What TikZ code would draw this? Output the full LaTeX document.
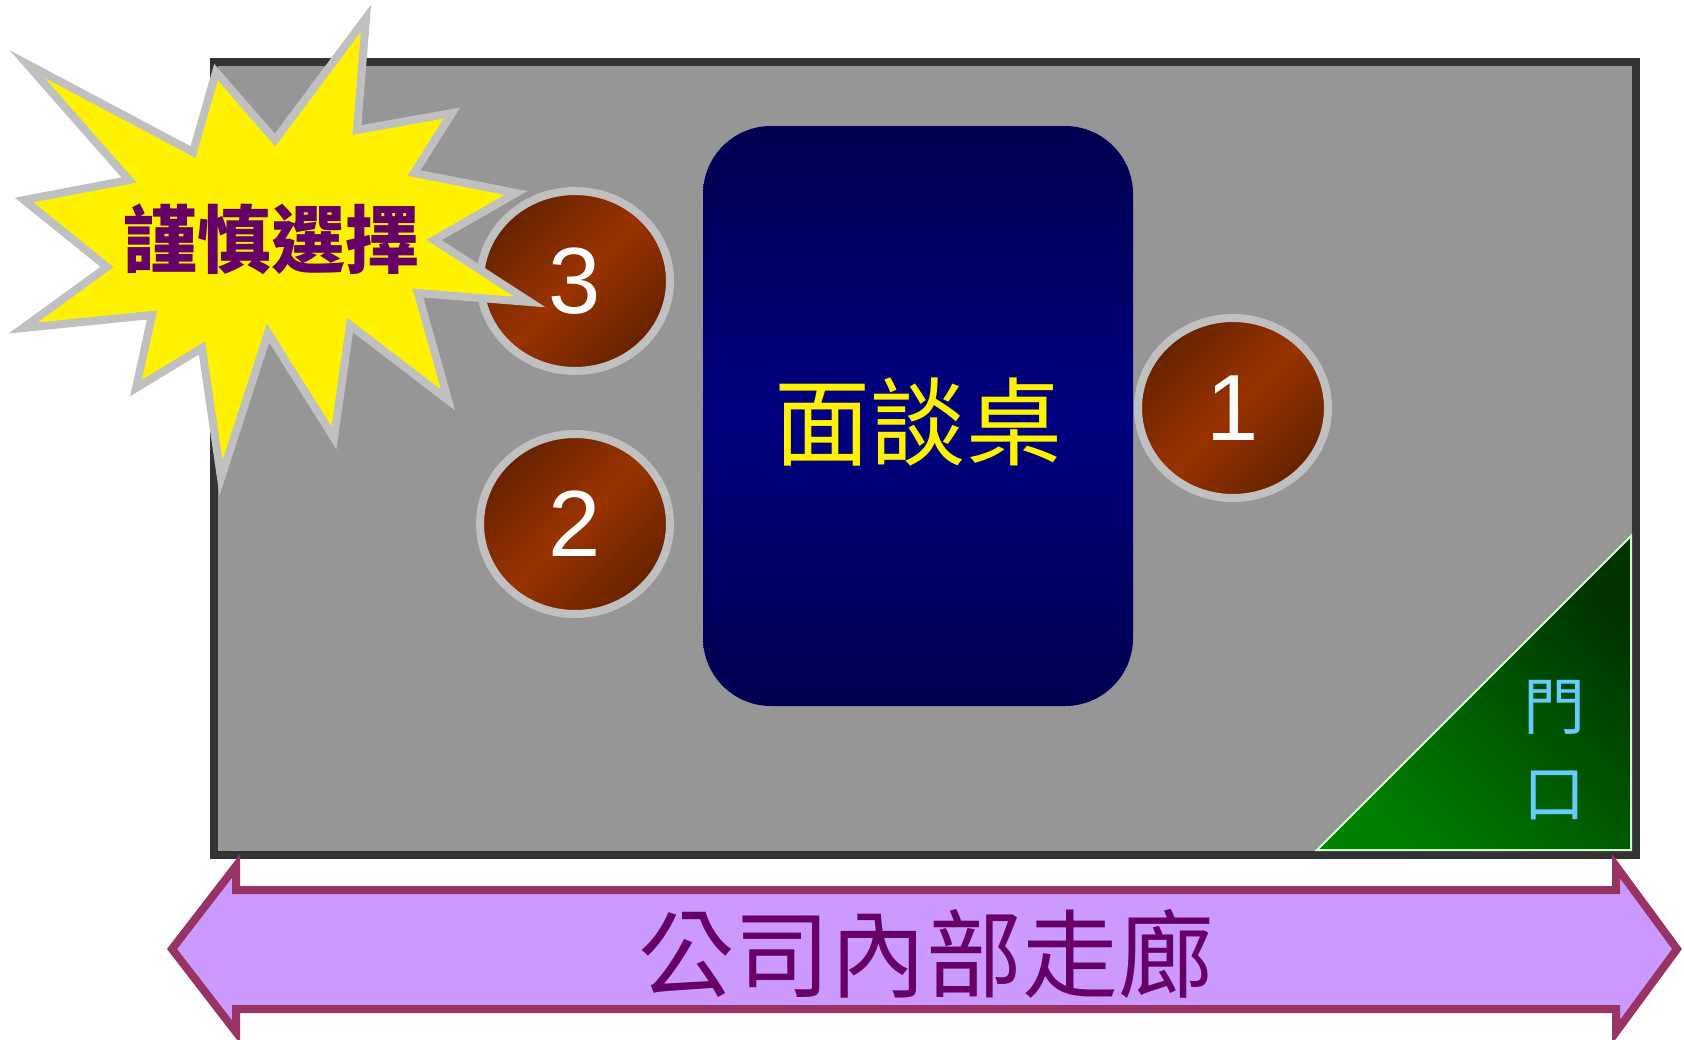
\documentclass[tikz,border=0pt]{standalone}
\usepackage{fontspec}
\setmainfont{Liberation Sans}
\newfontfamily\cjk{Noto Sans CJK TC}
\usetikzlibrary{shapes.geometric}

\definecolor{roomgray}{HTML}{969696}
\definecolor{roomwall}{HTML}{333333}
\definecolor{deskdark}{HTML}{000050}
\definecolor{deskmid}{HTML}{000080}
\definecolor{seatdark}{HTML}{662200}
\definecolor{seatmid}{HTML}{993300}
\definecolor{silver}{HTML}{C0C0C0}
\definecolor{doordark}{HTML}{003300}
\definecolor{doorlight}{HTML}{008000}
\definecolor{doortrim}{HTML}{CCFFCC}
\definecolor{doortext}{HTML}{66CCFF}
\definecolor{hallfill}{HTML}{CC99FF}
\definecolor{halltrim}{HTML}{993366}
\definecolor{plum}{HTML}{660066}

\begin{document}
\begin{tikzpicture}[
    x=0.5pt, y=-0.5pt,
    room/.style={draw=roomwall, line width=4pt, fill=roomgray},
    desk/.style={rectangle, rounded corners=34pt, minimum width=215pt, minimum height=290pt, top color=deskdark, bottom color=deskdark, middle color=deskmid, text=yellow, font=\cjk\fontsize{48}{48}\selectfont},
    seat/.style={ellipse, draw=silver, line width=4pt, minimum width=95pt, minimum height=90pt, inner sep=0pt, top color=seatdark, bottom color=seatdark, middle color=seatmid, shading angle=45, text=white, font=\fontsize{47}{47}\selectfont},
    door/.style={draw=doortrim, line width=1pt, top color=doordark, bottom color=doorlight, shading angle=-45},
    doorlabel/.style={text=doortext, inner sep=0pt, font=\cjk\fontsize{31}{31}\selectfont},
    burst/.style={draw=silver, line width=4pt, fill=yellow, line join=miter},
    hall/.style={draw=halltrim, line width=4pt, fill=hallfill, line join=miter}
]
\useasboundingbox (0,0) rectangle (1684,1039);

% Room
\draw[room] (214,62) rectangle (1636,855);

% Door
\draw[door] (1631,536) -- (1631,850) -- (1317,850) -- cycle;
\node[doorlabel] (door1) at (1554,707) {門};
\node[doorlabel] (door2) at (1554,795) {口};

% Interview table
\node[desk] (desk) at (918,416) {\raisebox{-3pt}[\height][\depth]{面談桌}};

% Seats
\node[seat] (seat1) at (1233,408) {1};
\node[seat] (seat2) at (575,524) {2};
\node[seat] (seat3) at (575,281) {3};

% Warning burst
\draw[burst] (366,18) -- (357,130) -- (452,113) -- (414,173) -- (516,193) -- (434,240)
    -- (530,302) -- (418,293) -- (448,400) -- (350,325) -- (334,438) -- (268,333)
    -- (221,478) -- (202,348) -- (136,388) -- (152,315) -- (23,328) -- (107,267)
    -- (24,200) -- (129,180) -- (27,64) -- (193,152) -- (216,72) -- (275,140) -- cycle;
\node[font=\cjk\bfseries\fontsize{37}{37}\selectfont, text=plum] (warn) at (271,239) {謹慎選擇};

% Corridor
\draw[hall] (172,949) -- (236,866) -- (236,890) -- (1616,890) -- (1616,866) -- (1677,949)
    -- (1616,1032) -- (1616,1009) -- (236,1009) -- (236,1032) -- cycle;
\node[font=\cjk\fontsize{48}{48}\selectfont, text=plum] (hall) at (926,954) {公司內部走廊};

\end{tikzpicture}
\end{document}
